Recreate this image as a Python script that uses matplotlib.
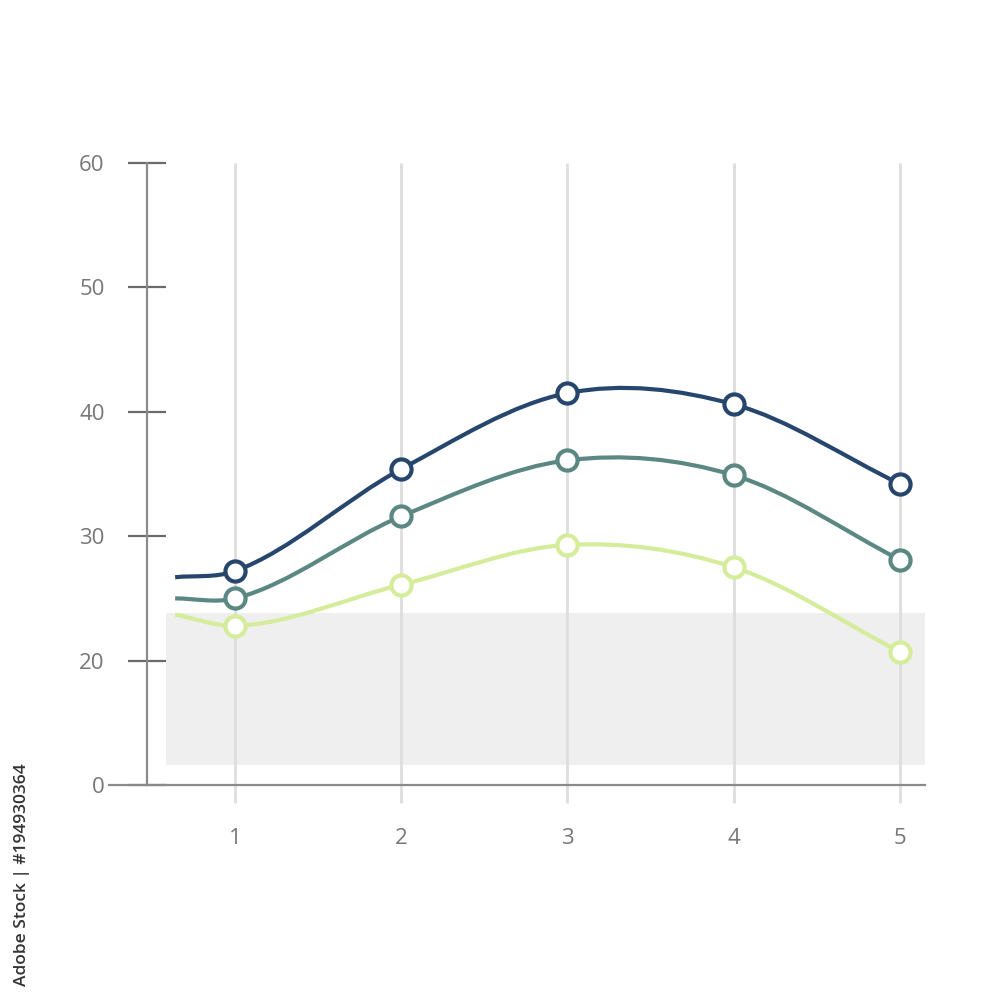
import matplotlib
matplotlib.use("Agg")
import matplotlib.pyplot as plt
from matplotlib.path import Path
import matplotlib.patches as patches
import numpy as np

# === DATA ===
x_values = [1, 2, 3, 4, 5]
lead_in_x = 0.64                      # curves start a little left of the first point
navy_values = [27.2, 35.4, 41.5, 40.6, 34.2]
teal_values = [25.0, 31.6, 36.1, 34.9, 28.1]
green_values = [22.8, 26.1, 29.3, 27.5, 20.7]
lead_in_values = [26.7, 25.0, 23.7]   # navy, teal, green
y_ticks = [10, 20, 30, 40, 50, 60]
y_tick_labels = ["0", "20", "30", "40", "50", "60"]
x_tick_labels = ["1", "2", "3", "4", "5"]
band_x = (0.585, 5.15)
band_y = (11.6, 23.8)

COLORS = ["#26466d", "#5b8882", "#d5ec9b"]
AXIS_GRAY = "#8a8a8a"
TICK_GRAY = "#6a6a6a"
LABEL_GRAY = "#777777"


def smooth_path(xs, ys):
    # cubic hermite through the points, slopes = mean of neighbouring secants
    xs = np.asarray(xs, float)
    ys = np.asarray(ys, float)
    sec = np.diff(ys) / np.diff(xs)
    m = np.empty_like(ys)
    m[0], m[-1] = sec[0], sec[-1]
    m[1:-1] = (sec[:-1] + sec[1:]) / 2.0
    verts = [(xs[0], ys[0])]
    codes = [Path.MOVETO]
    for i in range(len(xs) - 1):
        h = xs[i + 1] - xs[i]
        verts += [(xs[i] + h / 3, ys[i] + m[i] * h / 3),
                  (xs[i + 1] - h / 3, ys[i + 1] - m[i + 1] * h / 3),
                  (xs[i + 1], ys[i + 1])]
        codes += [Path.CURVE4] * 3
    return Path(verts, codes)


fig = plt.figure(figsize=(10, 10), dpi=100)
fig.patch.set_facecolor("white")
# axes box: y-axis at x=147px, x-axis at y=785px
ax = fig.add_axes([0.147, 0.215, 0.778, 0.622])
ax.set_xlim(0.4707, 5.1504)
ax.set_ylim(10, 60)

# gray band
ax.add_patch(patches.Rectangle((band_x[0], band_y[0]), band_x[1] - band_x[0], band_y[1] - band_y[0],
                               facecolor="#efefef", edgecolor="none", zorder=0))

# vertical grid lines (run a bit below the x-axis)
ax.vlines(x_values, 8.55, 60, colors="#dedede", linewidth=2, zorder=1, clip_on=False)

# curves
series = [navy_values, teal_values, green_values]
for vals, lead, color in zip(series, lead_in_values, COLORS):
    path = smooth_path([lead_in_x] + x_values, [lead] + vals)
    ax.add_patch(patches.PathPatch(path, facecolor="none", edgecolor=color, linewidth=3,
                                   capstyle="butt", zorder=3))
    ax.plot(x_values, vals, linestyle="none", marker="o", markersize=14.5,
            markerfacecolor="white", markeredgecolor=color, markeredgewidth=3, zorder=4)

# spines
for side in ["top", "right"]:
    ax.spines[side].set_visible(False)
ax.spines["left"].set_color(AXIS_GRAY)
ax.spines["left"].set_linewidth(1.6)
ax.spines["bottom"].set_color(AXIS_GRAY)
ax.spines["bottom"].set_linewidth(1.6)
# x-axis continues left past the y-axis
ax.plot([0.236, 0.4707], [10, 10], color=AXIS_GRAY, linewidth=1.6, clip_on=False,
        solid_capstyle="butt")

ax.set_yticks(y_ticks)
ax.set_yticklabels(y_tick_labels)
ax.tick_params(axis="y", direction="inout", length=27, width=1.6, color=TICK_GRAY,
               labelsize=16, labelcolor=LABEL_GRAY, pad=17)
ax.set_xticks(x_values)
ax.set_xticklabels(x_tick_labels)
ax.tick_params(axis="x", length=0, labelsize=16, labelcolor=LABEL_GRAY, pad=31)
for lab in ax.get_xticklabels() + ax.get_yticklabels():
    lab.set_family("Open Sans")

fig.text(0.022, 0.125, "Adobe Stock | #194930364", rotation=90, ha="center", va="center",
         fontsize=12.5, color="#333333", family="Open Sans", fontweight="semibold")

fig.savefig("out.png", dpi=100, facecolor="white")
